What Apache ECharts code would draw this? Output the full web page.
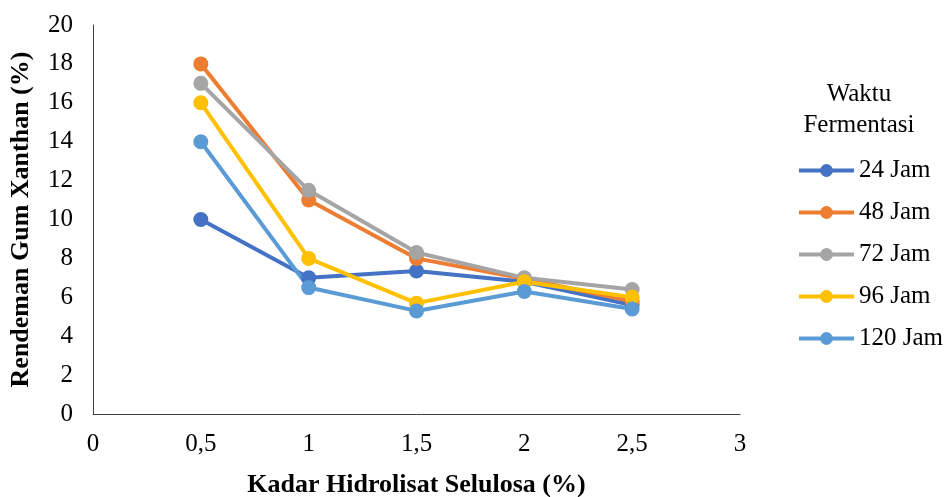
<!DOCTYPE html>
<html><head><meta charset="utf-8">
<script src="https://cdn.jsdelivr.net/npm/echarts@6/dist/echarts.min.js"></script>
<style>html,body{margin:0;padding:0;background:#fff}#c{width:946px;height:497px}</style>
</head><body><div id="c"></div>
<script>
var xValues = [0.5, 1, 1.5, 2, 2.5];
var seriesNames = ['24 Jam', '48 Jam', '72 Jam', '96 Jam', '120 Jam'];
var jam24 = [10.0, 7.0, 7.35, 6.8, 5.6];
var jam48 = [18.0, 11.0, 8.0, 6.95, 5.8];
var jam72 = [17.0, 11.5, 8.3, 7.0, 6.4];
var jam96 = [16.0, 8.0, 5.7, 6.8, 6.0];
var jam120 = [14.0, 6.5, 5.3, 6.3, 5.4];
var colors = ['#4472C4', '#ED7D31', '#A5A5A5', '#FFC000', '#5B9BD5'];
var allValues = [jam24, jam48, jam72, jam96, jam120];

var font = '"Liberation Serif", "Times New Roman", serif';
var chart = echarts.init(document.getElementById('c'));
chart.setOption({
  animation: false,
  grid: {left: 93, right: 206, top: 25, bottom: 83, outerBoundsMode: 'none', containLabel: false},
  xAxis: {
    type: 'value', min: 0, max: 3, interval: 0.5,
    name: 'Kadar Hidrolisat Selulosa (%)', nameLocation: 'middle', nameGap: 58,
    nameTextStyle: {fontFamily: font, fontSize: 26, fontWeight: 'bold', color: '#000'},
    axisLine: {show: true, lineStyle: {color: '#404040', width: 1}},
    axisTick: {show: false}, splitLine: {show: false},
    axisLabel: {fontFamily: font, fontSize: 25, color: '#000', margin: 18,
      formatter: function (v) { return String(v).replace('.', ','); }}
  },
  yAxis: {
    type: 'value', min: 0, max: 20, interval: 2,
    name: 'Rendeman Gum Xanthan (%)', nameLocation: 'middle', nameGap: 59,
    nameTextStyle: {fontFamily: font, fontSize: 26, fontWeight: 'bold', color: '#000'},
    axisLine: {show: true, lineStyle: {color: '#404040', width: 1}},
    axisTick: {show: false}, splitLine: {show: false},
    axisLabel: {fontFamily: font, fontSize: 25, color: '#000', margin: 20}
  },
  legend: {
    orient: 'vertical', left: 797, top: 158, itemGap: 17, padding: 0,
    itemWidth: 55, itemHeight: 16,
    lineStyle: {width: 4},
    textStyle: {fontFamily: font, fontSize: 25, color: '#000'},
    data: seriesNames
  },
  graphic: [{
    type: 'text', x: 859, y: 79,
    style: {text: 'Waktu\nFermentasi', font: '25px ' + font, fill: '#000', align: 'center', lineHeight: 31}
  }],
  series: seriesNames.map(function (n, i) {
    return {
      name: n, type: 'line',
      data: xValues.map(function (x, j) { return [x, allValues[i][j]]; }),
      color: colors[i], symbol: 'circle', symbolSize: 15,
      lineStyle: {width: 4}
    };
  })
});
</script></body></html>
